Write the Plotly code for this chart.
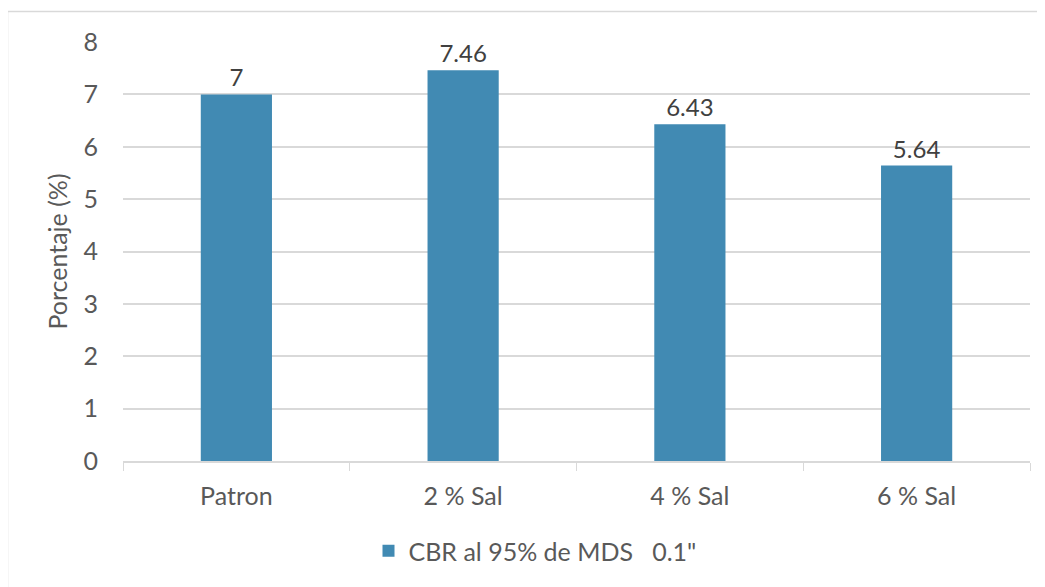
import plotly.graph_objects as go

categories = ["Patron", "2 % Sal", "4 % Sal", "6 % Sal"]
values = [7, 7.46, 6.43, 5.64]
labels = ["7", "7.46", "6.43", "5.64"]
series_name = "CBR al 95% de MDS   0.1\""
y_ticks = [0, 1, 2, 3, 4, 5, 6, 7, 8]

# page has an 8px body margin; figure coords = page coords - 8
OFF = 8
W, H = 1045 - OFF, 587 - OFF
ml, mt = 123 - OFF, 42 - OFF
mr = W - (1030 - OFF)
mb = H - (461 - OFF)
pw, ph = W - ml - mr, H - mt - mb

FONT = "Lato"
FS = 25

fig = go.Figure()
fig.add_trace(go.Bar(
    x=categories, y=values, name=series_name,
    marker=dict(color="#418AB3", line=dict(width=0)),
    text=labels, textposition="outside", cliponaxis=False,
    textfont=dict(family=FONT, size=24, color="#404040"),
))

def px_to_paper_x(px):
    return (px - OFF - ml) / pw

def px_to_paper_y(py):
    return 1 - (py - OFF - mt) / ph

fig.add_shape(type="rect", xref="paper", yref="paper",
              x0=px_to_paper_x(7.5), x1=px_to_paper_x(1080),
              y0=px_to_paper_y(620), y1=px_to_paper_y(11.5),
              line=dict(color="#d9d9d9", width=1.5), layer="below")

fig.update_layout(
    width=W, height=H,
    margin=dict(l=ml, r=mr, t=mt, b=mb, autoexpand=False),
    paper_bgcolor="white", plot_bgcolor="white",
    bargap=0.686,
    font=dict(family=FONT, color="#595959"),
    showlegend=True,
    legend=dict(orientation="h", x=(535 - OFF) / W, xanchor="center", xref="container",
                y=1 - (551 - OFF) / H, yanchor="middle", yref="container",
                font=dict(family=FONT, size=FS, color="#595959")),
    xaxis=dict(showgrid=False, showline=True, linecolor="#d9d9d9", linewidth=1.5,
               ticks="outside", tickson="boundaries", ticklen=8, tickcolor="#d9d9d9",
               automargin=False,
               tickfont=dict(family=FONT, size=FS, color="#595959"), ticklabelstandoff=12),
    yaxis=dict(range=[0, 8], tickvals=y_ticks, showgrid=True, gridcolor="#d9d9d9", gridwidth=1.5,
               zeroline=False, showline=False, automargin=False,
               tickfont=dict(family=FONT, size=FS, color="#595959"), ticklabelstandoff=24,
               title=dict(text="Porcentaje (%)", font=dict(family=FONT, size=FS, color="#595959"), standoff=8)),
)

fig.write_html("out.html")
